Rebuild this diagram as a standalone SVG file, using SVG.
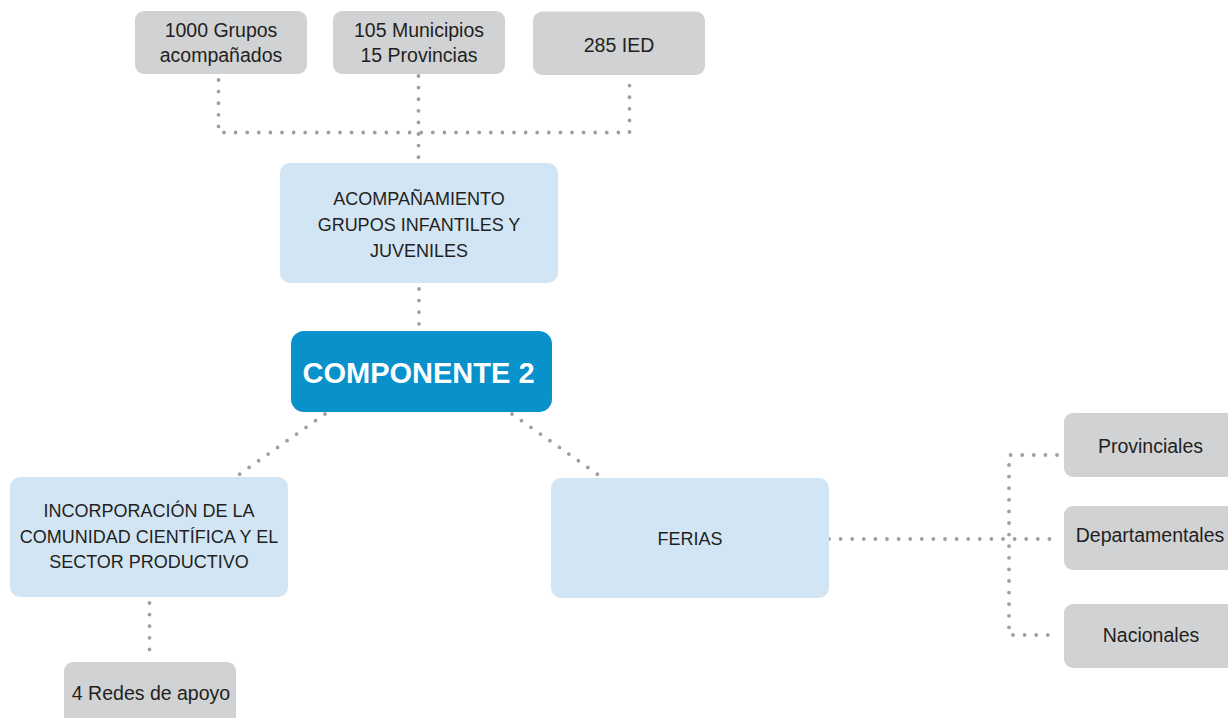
<svg xmlns="http://www.w3.org/2000/svg" width="1228" height="718" viewBox="0 0 1228 718">
  <style>
    .gray { fill: #d1d2d4; }
    .light { fill: #d2e5f5; }
    .main { fill: #0891cb; }
    .t { font-family: "Liberation Sans", Arial, sans-serif; fill: #231f20; text-anchor: middle; }
    .g { font-size: 19.5px; }
    .b { font-size: 18px; }
    .m { font-family: "Liberation Sans", Arial, sans-serif; font-weight: bold; font-size: 29px; fill: #ffffff; text-anchor: middle; }
    .dot { fill: none; stroke: #9d9fa2; stroke-width: 3.8; stroke-linecap: round; stroke-dasharray: 0 11.6; }
  </style>

  <rect width="1228" height="718" fill="#ffffff"/>

  <!-- dotted connectors -->
  <g id="connectors">
    <path class="dot" d="M218.5 80 V132.5 H629.5 V80"/>
    <path class="dot" d="M418.5 76 V159"/>
    <path class="dot" d="M419 289 V326"/>
    <path class="dot" d="M325 414 L237 476"/>
    <path class="dot" d="M512 414 L600 476"/>
    <path class="dot" d="M149.5 603 V652"/>
    <path class="dot" d="M829 539 H1057"/>
    <path class="dot" d="M1057 455 H1009 V635 H1057"/>
  </g>

  <g id="n-grupos">
    <rect class="gray" x="135" y="11" width="172" height="63" rx="9"/>
    <text class="t g" x="221" y="37">1000 Grupos</text>
    <text class="t g" x="221" y="62">acompañados</text>
  </g>
  <g id="n-municipios">
    <rect class="gray" x="333" y="11" width="172" height="63" rx="9"/>
    <text class="t g" x="419" y="37">105 Municipios</text>
    <text class="t g" x="419" y="62">15 Provincias</text>
  </g>
  <g id="n-ied">
    <rect class="gray" x="533" y="11.5" width="172" height="63.5" rx="9"/>
    <text class="t g" x="619" y="51.5">285 IED</text>
  </g>

  <g id="n-acompanamiento">
    <rect class="light" x="280" y="163" width="278" height="120" rx="10"/>
    <text class="t b" x="419" y="205">ACOMPAÑAMIENTO</text>
    <text class="t b" x="419" y="231">GRUPOS INFANTILES Y</text>
    <text class="t b" x="419" y="257">JUVENILES</text>
  </g>

  <g id="n-componente">
    <rect class="main" x="291" y="331" width="261" height="81" rx="13"/>
    <text class="m" x="418.5" y="383">COMPONENTE 2</text>
  </g>

  <g id="n-incorporacion">
    <rect class="light" x="10" y="477" width="278" height="120" rx="10"/>
    <text class="t b" x="149" y="517">INCORPORACIÓN DE LA</text>
    <text class="t b" x="149" y="543">COMUNIDAD CIENTÍFICA Y EL</text>
    <text class="t b" x="149" y="568">SECTOR PRODUCTIVO</text>
  </g>

  <g id="n-redes">
    <rect class="gray" x="64" y="662" width="172" height="70" rx="9"/>
    <text class="t g" x="151" y="700">4 Redes de apoyo</text>
  </g>

  <g id="n-ferias">
    <rect class="light" x="551" y="478" width="278" height="120" rx="10"/>
    <text class="t b" x="690" y="545">FERIAS</text>
  </g>

  <g id="n-provinciales">
    <rect class="gray" x="1064" y="413" width="174" height="64" rx="9"/>
    <text class="t g" x="1150.5" y="452.5">Provinciales</text>
  </g>
  <g id="n-departamentales">
    <rect class="gray" x="1064" y="506" width="174" height="64" rx="9"/>
    <text class="t g" x="1150" y="542">Departamentales</text>
  </g>
  <g id="n-nacionales">
    <rect class="gray" x="1064" y="604" width="174" height="64" rx="9"/>
    <text class="t g" x="1151" y="642">Nacionales</text>
  </g>
</svg>
